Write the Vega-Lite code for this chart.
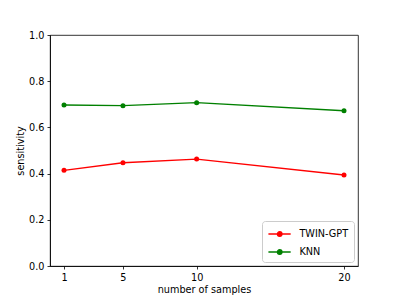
{
  "$schema": "https://vega.github.io/schema/vega-lite/v6.json",
  "width": 308,
  "height": 231,
  "autosize": {"type": "none"},
  "padding": {"left": 50, "top": 35, "right": 41, "bottom": 33},
  "background": "white",
  "config": {
    "font": "DejaVu Sans",
    "view": {"stroke": "black", "strokeWidth": 0.8},
    "axis": {
      "grid": false,
      "domainColor": "black",
      "domainWidth": 0.8,
      "tickColor": "black",
      "tickWidth": 0.8,
      "tickSize": 3,
      "labelColor": "black",
      "labelFontSize": 9.7,
      "labelPadding": 3,
      "titleColor": "black",
      "titleFontSize": 9.7,
      "titleFontWeight": "normal"
    }
  },
  "data": {
    "values": [
      {"samples": 1, "sensitivity": 0.414, "method": "TWIN-GPT"},
      {"samples": 5, "sensitivity": 0.447, "method": "TWIN-GPT"},
      {"samples": 10, "sensitivity": 0.463, "method": "TWIN-GPT"},
      {"samples": 20, "sensitivity": 0.394, "method": "TWIN-GPT"},
      {"samples": 1, "sensitivity": 0.697, "method": "KNN"},
      {"samples": 5, "sensitivity": 0.694, "method": "KNN"},
      {"samples": 10, "sensitivity": 0.707, "method": "KNN"},
      {"samples": 20, "sensitivity": 0.672, "method": "KNN"}
    ]
  },
  "encoding": {
    "x": {
      "field": "samples",
      "type": "quantitative",
      "scale": {"domain": [0.05, 20.95], "nice": false, "zero": false},
      "axis": {"values": [1, 5, 10, 20], "title": "number of samples", "titlePadding": 3}
    },
    "y": {
      "field": "sensitivity",
      "type": "quantitative",
      "scale": {"domain": [0, 1], "nice": false},
      "axis": {"values": [0, 0.2, 0.4, 0.6, 0.8, 1.0], "format": ".1f", "title": "sensitivity", "titlePadding": 3}
    },
    "color": {
      "field": "method",
      "type": "nominal",
      "scale": {"domain": ["TWIN-GPT", "KNN"], "range": ["#ff0000", "#008000"]},
      "legend": {
        "title": null,
        "orient": "bottom-right",
        "offset": 4.5,
        "padding": 5,
        "fillColor": "white",
        "strokeColor": "#cccccc",
        "cornerRadius": 3,
        "labelFontSize": 9.7,
        "labelColor": "black",
        "labelOffset": 16.4,
        "labelExpr": "datum.label + ' '",
        "rowPadding": 5,
        "symbolType": "M-0.94,0H2.24M0.34,0A0.33,0.33,0,1,0,1.0,0A0.33,0.33,0,1,0,0.34,0Z",
        "symbolSize": 196,
        "symbolStrokeWidth": 1.3,
        "encode": {
          "symbols": {
            "update": {
              "stroke": {"scale": "color", "field": "value"},
              "fill": {"scale": "color", "field": "value"},
              "opacity": {"value": 1}
            }
          }
        }
      }
    }
  },
  "layer": [
    {"mark": {"type": "line", "strokeWidth": 1.3}},
    {"mark": {"type": "point", "filled": true, "size": 25, "opacity": 1}}
  ]
}
